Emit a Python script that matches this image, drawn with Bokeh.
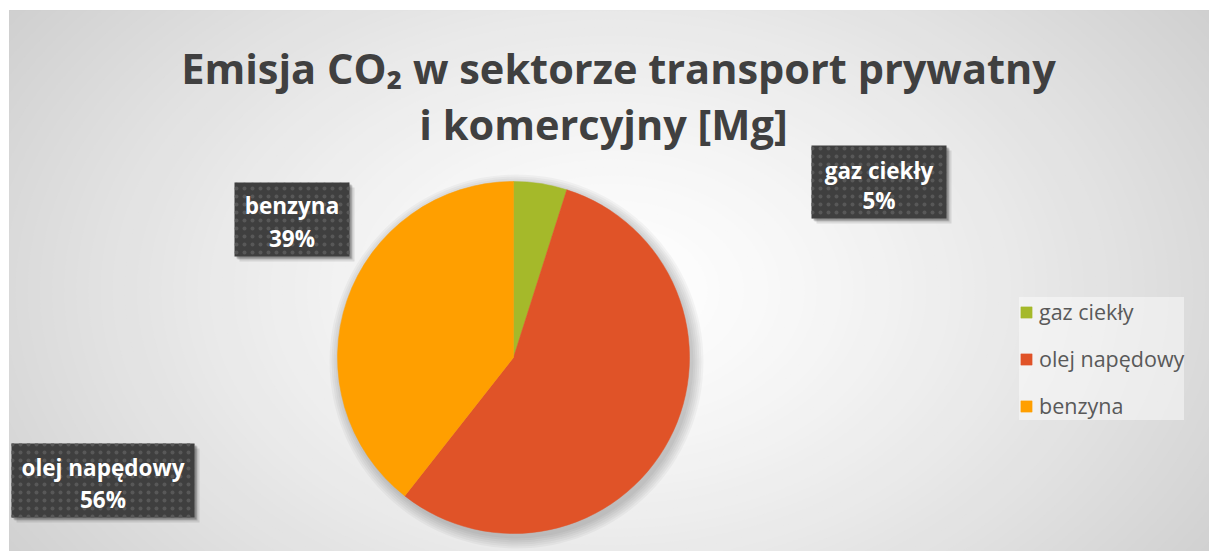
import math
from bokeh.plotting import figure
from bokeh.models import Range1d, Legend, LegendItem, ColumnDataSource
from bokeh.core.properties import value
from bokeh.embed import file_html
from bokeh.resources import INLINE

# ---- data ----
categories = ["gaz ciekły", "olej napędowy", "benzyna"]
shares = [4.9, 55.7, 39.4]          # percent of total emission
colors = ["#A5B92A", "#E05328", "#FF9F00"]
title_lines = ["Emisja CO₂ w sektorze transport prywatny", "i komercyjny [Mg]"]

W, H = 1209, 551
LB, TB = 9, 10   # white border left / top
FONT = "Open Sans"

def sx(x):  # screen x -> data x
    return x

def sy(y):  # screen y -> data y
    return H - y

p = figure(width=W, height=H, x_range=Range1d(LB, W), y_range=Range1d(0, H - TB),
           output_backend="svg", toolbar_location=None,
           min_border_left=LB, min_border_top=TB, min_border_right=0, min_border_bottom=0,
           x_axis_type=None, y_axis_type=None, outline_line_color=None)
p.grid.visible = False
p.background_fill_color = "#c6c6c6"
p.border_fill_color = "white"

# ---- radial gradient background (style only) ----
N = 70
cx, cy = sx(610), sy(290)
gx, gy, gw, gh, gc = [], [], [], [], []
for i in range(N):
    t = 1 - i / N
    g = int(round(255 - 57 * t ** 1.3))
    gx.append(cx); gy.append(cy)
    gw.append(1700 * t); gh.append(1150 * t)
    gc.append("#%02x%02x%02x" % (g, g, g))
p.ellipse(x=gx, y=gy, width=gw, height=gh, fill_color=gc, line_color=None)

# ---- pie ----
pcx, pcy, R = sx(513), sy(357), 176
for k in range(6):
    p.circle(x=[pcx + 3], y=[pcy - 4], radius=R + 1 + k * 2.0,
             fill_color="black", fill_alpha=0.035, line_color=None)

total = sum(shares)
starts, ends = [], []
cum = 0.0
for v in shares:
    starts.append(math.pi / 2 - 2 * math.pi * cum / total)
    cum += v
    ends.append(math.pi / 2 - 2 * math.pi * cum / total)
src = ColumnDataSource(dict(cat=categories, start=starts, end=ends, color=colors))
wr = p.wedge(x=pcx, y=pcy, radius=R, start_angle="start", end_angle="end",
             direction="clock", fill_color="color", line_color="color",
             line_width=0.5, source=src)

# ---- data labels in dark textured boxes (order follows categories) ----
boxes = [(811, 946, 145, 218), (11, 194, 443, 517), (234, 349, 182, 256)]
line_y = [(170, 200), (467, 499), (205, 238)]
for (l, r, t, b) in boxes:
    for off, a in ((5, 0.10), (3, 0.15), (2, 0.2)):
        p.quad(left=[sx(l) + off], right=[sx(r) + off], top=[sy(t) - off],
               bottom=[sy(b) - off], fill_color="black", fill_alpha=a, line_color=None)
p.quad(left=[sx(b[0]) for b in boxes], right=[sx(b[1]) for b in boxes],
       top=[sy(b[2]) for b in boxes], bottom=[sy(b[3]) for b in boxes],
       fill_color="#3f3f3f", line_color=None, hatch_pattern=".",
       hatch_color="#585858", hatch_scale=8, hatch_weight=1)
lab_x = [sx((b[0] + b[1]) / 2) for b in boxes]
p.text(x=lab_x, y=[sy(ly[0]) for ly in line_y], text=categories,
       text_font=value(FONT), text_font_style="bold", text_font_size="22.5px",
       text_color="white", text_align="center", text_baseline="middle")
p.text(x=lab_x, y=[sy(ly[1]) for ly in line_y],
       text=["%d%%" % round(100 * v / total) for v in shares],
       text_font=value(FONT), text_font_style="bold", text_font_size="22.5px",
       text_color="white", text_align="center", text_baseline="middle")

# ---- title ----
p.text(x=[sx(618), sx(603)], y=[sy(67), sy(123)], text=title_lines,
       text_font=value(FONT), text_font_style="bold", text_font_size="41.5px",
       text_color="#404040", text_align="center", text_baseline="alphabetic")

# ---- legend ----
legend = Legend(items=[LegendItem(label=c, renderers=[wr], index=i)
                       for i, c in enumerate(categories)],
                location=(1019 - LB, H - 420))
legend.label_text_font = FONT
legend.label_text_font_size = "21.5px"
legend.label_text_color = "#595959"
legend.glyph_width = 14
legend.glyph_height = 14
legend.label_height = 27
legend.label_standoff = 6
legend.spacing = 18
legend.padding = 11
legend.margin = 0
legend.background_fill_color = "white"
legend.background_fill_alpha = 0.45
legend.border_line_color = None
p.add_layout(legend)

open("out.html", "w").write(file_html(p, INLINE))
